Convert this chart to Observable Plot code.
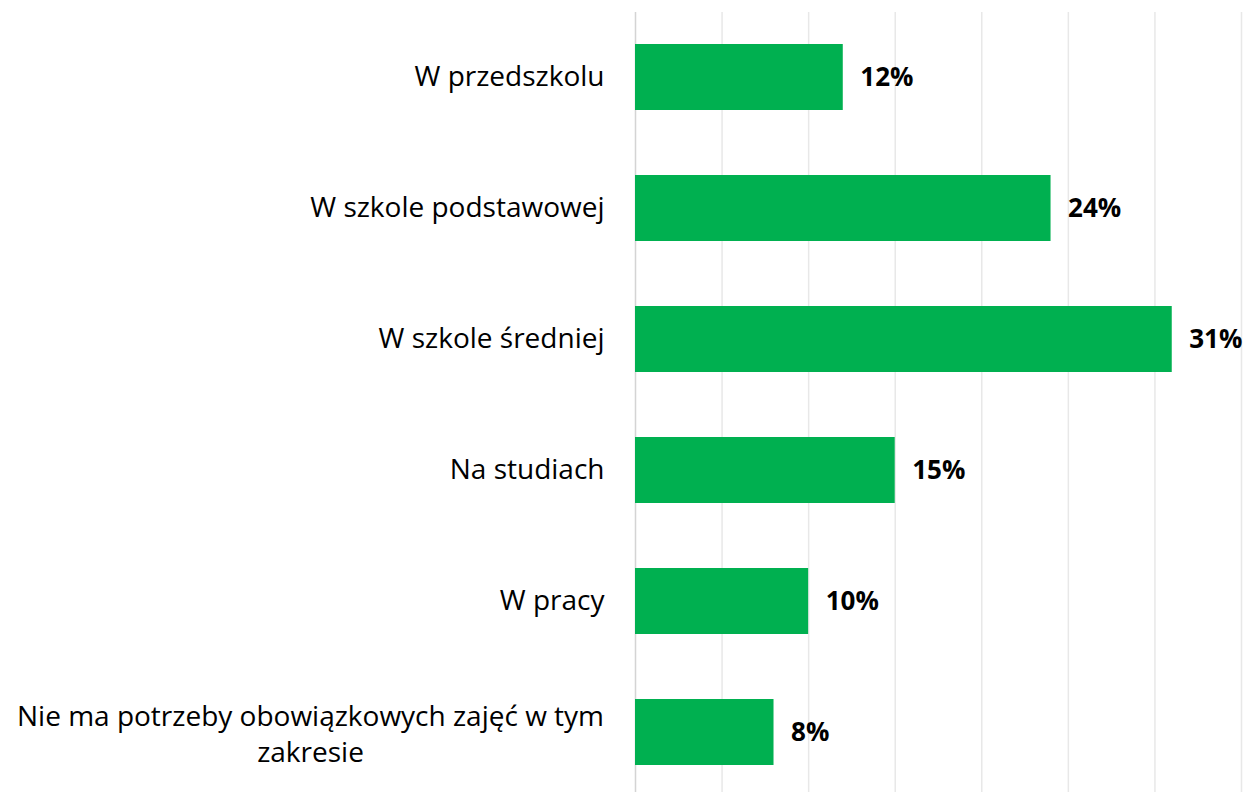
<!DOCTYPE html>
<html>
<head>
<meta charset="utf-8">
<script src="https://cdn.jsdelivr.net/npm/d3@7"></script>
<script src="https://cdn.jsdelivr.net/npm/@observablehq/plot@0.6"></script>
<style>
  html, body { margin: 0; padding: 0; background: #fff; overflow: hidden; }
  #chart svg { display: block; }
</style>
</head>
<body>
<div id="chart"></div>
<script>
const categories = [
  "W przedszkolu",
  "W szkole podstawowej",
  "W szkole średniej",
  "Na studiach",
  "W pracy",
  "Nie ma potrzeby obowiązkowych zajęć w tym zakresie"
];
const labelLines = [
  "W przedszkolu",
  "W szkole podstawowej",
  "W szkole średniej",
  "Na studiach",
  "W pracy",
  "Nie ma potrzeby obowiązkowych zajęć w tym\nzakresie"
];
const values = [12, 24, 31, 15, 10, 8];
const xTicks = [5, 10, 15, 20, 25, 30, 35];

const data = categories.map((c, i) => ({category: c, label: labelLines[i], value: values[i]}));
const single = data.filter(d => !d.label.includes("\n"));
const multi = data.filter(d => d.label.includes("\n"));

const font = "'Open Sans', sans-serif";

const chart = Plot.plot({
  width: 1245,
  height: 792,
  marginLeft: 635,
  marginRight: 4,
  marginTop: 12,
  marginBottom: 0,
  style: {fontFamily: font, background: "#fff", overflow: "visible"},
  x: {domain: [0, 35], axis: null},
  y: {domain: categories, range: [11, 797], paddingInner: 0.5, paddingOuter: 0.25, axis: null},
  marks: [
    Plot.ruleX(xTicks, {x: d => d, stroke: "#e8e8e8", strokeWidth: 1.5}),
    Plot.ruleX([0], {stroke: "#d4d4d4", strokeWidth: 1.5}),
    Plot.barX(data, {x: "value", y: "category", fill: "#00B050"}),
    Plot.text(data, {
      x: "value", y: "category", text: d => d.value + "%",
      textAnchor: "start", dx: 17, fontWeight: "bold", fontSize: 26, fill: "#000"
    }),
    Plot.text(single, {
      y: "category", frameAnchor: "left", text: "label",
      textAnchor: "end", dx: -31, fontSize: 28, fill: "#000"
    }),
    Plot.text(multi, {
      y: "category", frameAnchor: "left", text: "label",
      textAnchor: "middle", dx: -325, fontSize: 28, lineHeight: 1.3, fill: "#000"
    })
  ]
});
document.getElementById("chart").appendChild(chart);
</script>
</body>
</html>
